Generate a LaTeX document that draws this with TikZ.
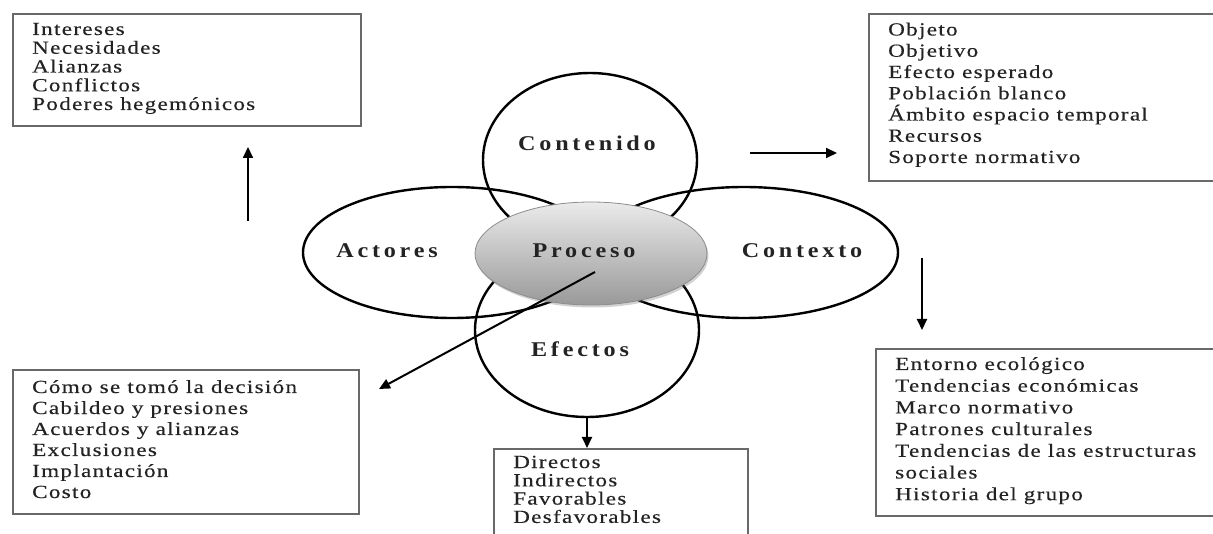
\documentclass[tikz,border=0pt]{standalone}
\usepackage{fontspec}
\setmainfont{Liberation Serif}
\newfontfamily\listfont[FakeStretch=1.25,LetterSpace=7,FakeBold=0.3]{Liberation Serif}
\newfontfamily\labelfont[FakeStretch=1.15,LetterSpace=18]{Liberation Serif}
\usetikzlibrary{shapes.geometric,arrows.meta,shadows}
\definecolor{boxgray}{RGB}{105,105,105}
\definecolor{txt}{RGB}{35,35,35}
\newcommand\boxlines[2]{\parbox[t]{330pt}{\raggedright\lineskiplimit=-100pt\listfont\fontsize{18.5}{#1}\selectfont #2\par}}
\begin{document}
\begin{tikzpicture}[x=1pt,y=-1pt,
  ring/.style={draw=black, line width=2.4pt, ellipse, inner sep=0pt},
  frame/.style={draw=boxgray, line width=1.6pt, rectangle, anchor=north west, inner sep=0pt},
  itemtext/.style={anchor=base west, inner sep=0pt, text=txt},
  lbl/.style={anchor=base, inner sep=0pt, text=txt, font=\labelfont\bfseries\fontsize{21}{24}\selectfont},
  arr/.style={line width=2pt, draw=black, -{Triangle[length=11pt,width=10pt]}}
]
\useasboundingbox (0,0) rectangle (1213,534);
\clip (0,0) rectangle (1213,534);

% boxes
\node[frame, minimum width=348pt, minimum height=112pt] (tl) at (12,13) {};
\node[frame, minimum width=350pt, minimum height=167pt] (tr) at (868,13) {};
\node[frame, minimum width=346pt, minimum height=144pt] (bl) at (12,369) {};
\node[frame, minimum width=254pt, minimum height=100pt] (bbox) at (493,448) {};
\node[frame, minimum width=345pt, minimum height=167pt] (br) at (875,348) {};

% box texts
\node[itemtext] (tltext) at (32,35) {\boxlines{18.75}{Intereses\\Necesidades\\Alianzas\\Conflictos\\Poderes hegemónicos}};
\node[itemtext] (trtext) at (888,35.5) {\boxlines{21.25}{Objeto\\Objetivo\\Efecto esperado\\Población blanco\\Ámbito espacio temporal\\Recursos\\Soporte normativo}};
\node[itemtext] (bltext) at (32,393) {\boxlines{21}{Cómo se tomó la decisión\\Cabildeo y presiones\\Acuerdos y alianzas\\Exclusiones\\Implantación\\Costo}};
\node[itemtext] (btext) at (513,468) {\boxlines{18.3}{Directos\\Indirectos\\Favorables\\Desfavorables}};
\node[itemtext] (brtext) at (895,370) {\boxlines{21.7}{Entorno ecológico\\Tendencias económicas\\Marco normativo\\Patrones culturales\\Tendencias de las estructuras\\sociales\\Historia del grupo}};

% rings
\node[ring, minimum width=298pt, minimum height=131pt] (actores) at (452,252.5) {};
\node[ring, minimum width=308pt, minimum height=131pt] (contexto) at (744,252.5) {};
\node[ring, minimum width=214pt, minimum height=174pt] (contenido) at (590,160) {};
\node[ring, minimum width=224pt, minimum height=174pt] (efectos) at (587,330) {};
\node[ellipse, draw=black!45, line width=0.8pt, top color=black!8, bottom color=black!40,
      minimum width=232pt, minimum height=103pt, inner sep=0pt,
      drop shadow={shadow xshift=1.5pt, shadow yshift=-2.5pt, opacity=0.3, fill=black!60}] (proceso) at (591,253.5) {};

% labels
\node[lbl] (lcontenido) at (587,151) {Contenido};
\node[lbl] (lactores) at (387,258) {Actores};
\node[lbl] (lproceso) at (584,258) {Proceso};
\node[lbl] (lcontexto) at (802,258) {Contexto};
\node[lbl] (lefectos) at (580,357) {Efectos};

% arrows
\coordinate (upS) at (248,221);
\coordinate (upE) at (248,147);
\coordinate (rS) at (750,153);
\coordinate (rE) at (837,153);
\coordinate (dS) at (922,258);
\coordinate (dE) at (922,330);
\coordinate (diagS) at (595,272);
\coordinate (diagE) at (379,389);
\draw[arr] (upS) -- (upE);
\draw[arr] (rS) -- (rE);
\draw[arr] (dS) -- (dE);
\draw[arr] (diagS) -- (diagE);
\draw[arr] (efectos.south) -- (efectos.south |- bbox.north);
\end{tikzpicture}
\end{document}
